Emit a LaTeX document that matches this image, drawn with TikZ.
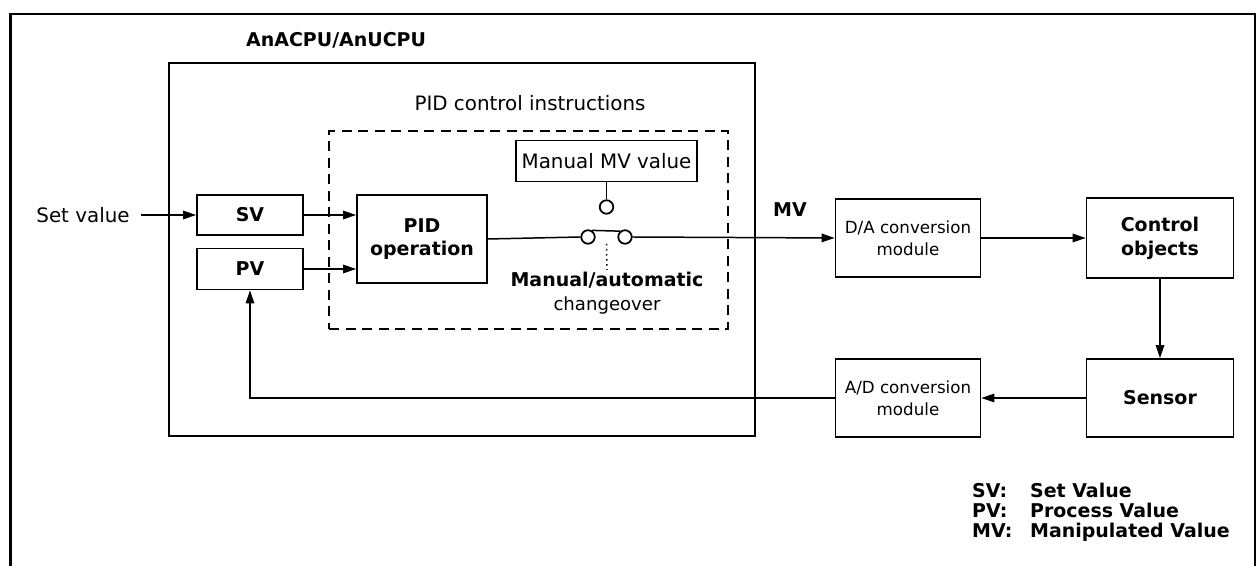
\documentclass[tikz,border=0pt]{standalone}
\usepackage{fontspec}
\setmainfont{DejaVu Sans}
\usetikzlibrary{arrows.meta,positioning,calc}

\begin{document}
\begin{tikzpicture}[
  every node/.style={font=\fontsize{11.3}{13.5}\selectfont},
  blk/.style={rectangle, draw, line width=1pt, align=center, inner sep=2pt},
  bblk/.style={blk, font=\fontsize{10.8}{13.5}\selectfont\bfseries},
  sblk/.style={blk, font=\fontsize{9.5}{12.5}\selectfont},
  frame/.style={rectangle, draw, line width=0.7pt, inner sep=0pt},
  pidframe/.style={frame, line width=0.8pt, dash pattern=on 2mm off 1.3mm},
  boldlab/.style={font=\fontsize{10.8}{13.5}\selectfont\bfseries, inner sep=1pt},
  sig/.style={-{Triangle[length=2.6mm,width=1.7mm]}, line width=0.85pt},
  wire/.style={line width=0.85pt},
  contact/.style={circle, draw, line width=1pt, minimum size=0.27cm, inner sep=0pt},
  key/.style={boldlab, anchor=base west},
]
  \useasboundingbox (0,0) rectangle (25.2,11.32);

  % outer frame (open at the bottom)
  \draw[line width=1.3pt] (0.21,0) -- (0.21,11.04) -- (25.1,11.04) -- (25.1,0);

  % CPU and PID instruction frames
  \node[frame, minimum width=11.72cm, minimum height=7.46cm] (cpu) at (9.24,6.33) {};
  \node[boldlab, anchor=west] (cpulab) at (4.88,10.52) {AnACPU/AnUCPU};
  \node[pidframe, minimum width=7.98cm, minimum height=3.96cm] (pidins) at (10.57,6.72) {};
  \node (pidlab) at (10.6,9.26) {PID control instructions};

  % blocks inside the CPU
  \node (setv) at (1.66,7.02) {Set value};
  \node[bblk, minimum width=2.12cm, minimum height=0.8cm] (sv) at (5.0,7.02) {SV};
  \node[bblk, minimum width=2.12cm, minimum height=0.82cm] (pv) at (5.0,5.94) {PV};
  \node[bblk, minimum width=2.6cm, minimum height=1.76cm] (pid) at (8.44,6.54) {PID\\operation};
  \node[blk, minimum width=3.62cm, minimum height=0.82cm] (manmv) at (12.13,8.1) {Manual MV value};

  % changeover switch
  \node[contact] (mvpin) at (12.13,7.18) {};
  \node[contact] (swa) at (11.76,6.58) {};
  \node[contact] (swb) at (12.5,6.58) {};
  \coordinate (swmid) at ($(swa)!0.5!(swb)$);
  \node[align=center, inner sep=1pt] (chglab) at (12.14,5.46)
    {\textbf{\fontsize{10.8}{13.5}\selectfont Manual/automatic}\\{\fontsize{10.3}{12}\selectfont changeover}};

  % blocks outside the CPU
  \node[boldlab] (mvlab) at (15.8,7.12) {MV};
  \node[sblk, minimum width=2.9cm, minimum height=1.56cm] (da) at (18.16,6.56) {D/A conversion\\module};
  \node[bblk, minimum width=2.94cm, minimum height=1.6cm] (ctrl) at (23.2,6.56) {Control\\objects};
  \node[bblk, minimum width=2.94cm, minimum height=1.56cm] (sensor) at (23.2,3.36) {Sensor};
  \node[sblk, minimum width=2.9cm, minimum height=1.56cm] (ad) at (18.16,3.36) {A/D conversion\\module};

  % signal flow
  \draw[sig, shorten <=3pt] (setv.east) -- (sv.west);
  \draw[sig] (sv.east) -- (sv.east -| pid.west);
  \draw[sig] (pv.east) -- (pv.east -| pid.west);
  \draw[wire] (pid.east) -- (swa.west);
  \draw[wire] (swa.60) -- (swb.130);
  \draw[wire] (manmv.south) -- (mvpin.north);
  \draw[wire, dotted] ($(swmid)+(0,-0.14)$) -- (chglab.north);
  \draw[sig] (swb.east) -- (da.west);
  \draw[sig] (da.east) -- (ctrl.west);
  \draw[sig] (ctrl.south) -- (sensor.north);
  \draw[sig] (sensor.west) -- (ad.east);
  \draw[sig] (ad.west) -| (pv.south);

  % legend
  \foreach \ab/\full [count=\i] in {SV/Set Value, PV/Process Value, MV/Manipulated Value} {
    \node[key] (keya\i) at (19.4,1.76-0.4*\i) {\ab:};
    \node[key] (keyb\i) at (20.56,1.76-0.4*\i) {\full};
  }
\end{tikzpicture}
\end{document}
